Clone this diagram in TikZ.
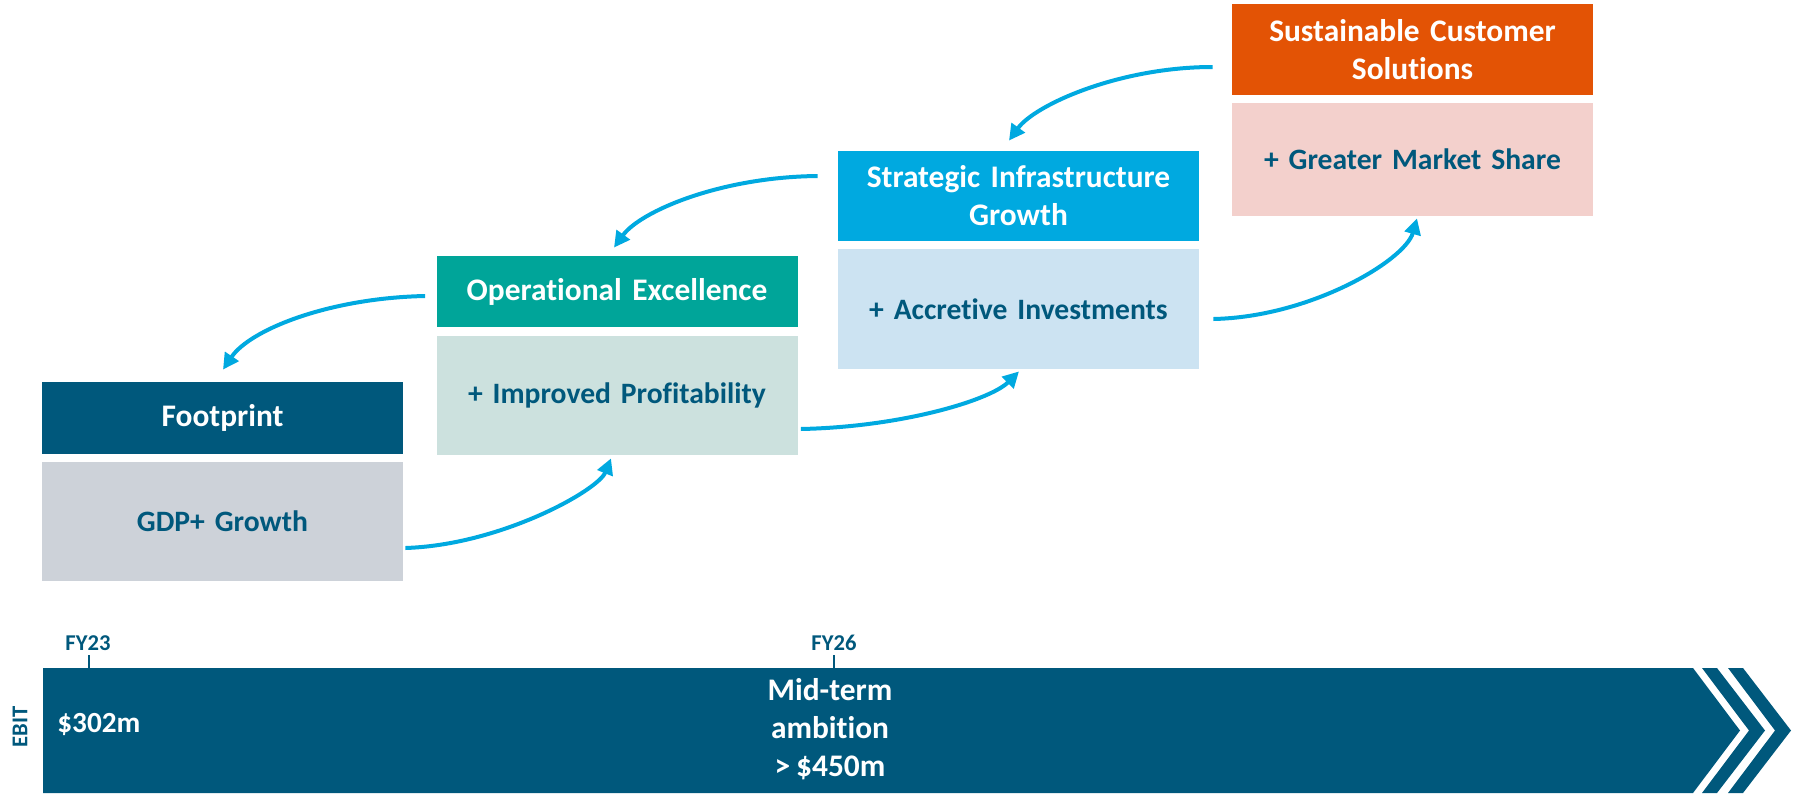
\documentclass[tikz,border=0pt]{standalone}
\usepackage{fontspec}
\setmainfont{Carlito}[Ligatures=CommonOff, WordSpace=0.85]
\usetikzlibrary{arrows.meta}
\definecolor{dkblue}{RGB}{0,88,124}
\definecolor{cyanA}{RGB}{0,169,224}
\definecolor{tealA}{RGB}{0,165,153}
\definecolor{orangeA}{RGB}{227,83,5}
\definecolor{pinkA}{RGB}{243,208,204}
\definecolor{ltblue}{RGB}{204,227,242}
\definecolor{ltteal}{RGB}{204,225,222}
\definecolor{ltgrey}{RGB}{205,210,217}
\tikzset{
  box/.style={rectangle, inner sep=0pt, align=center, minimum width=180.5pt, text width=175pt},
  headbox/.style={box, text=white, font=\fontsize{15.7}{19}\selectfont\bfseries},
  bodybox/.style={box, text=dkblue, font=\fontsize{14.8}{17.5}\selectfont\bfseries},
  flow/.style={draw=cyanA, line width=2pt, -{Triangle[length=8pt,width=8pt]}},
  small/.style={font=\fontsize{11.3}{13}\selectfont\bfseries, text=dkblue, inner sep=0pt},
  tick/.style={draw=dkblue, line width=1pt}
}
\begin{document}
\begin{tikzpicture}[x=0.5pt,y=-0.5pt]
\useasboundingbox (0,0) rectangle (1800,793);
% boxes
\node[headbox, fill=dkblue, minimum height=36pt] (fphead) at (222.5,418) {Footprint};
\node[bodybox, fill=ltgrey, minimum height=59.5pt] (fpbody) at (222.5,521.5) {GDP+ Growth};
\node[headbox, fill=tealA, minimum height=35.5pt] (ophead) at (617,291.5) {Operational Excellence};
\node[bodybox, fill=ltteal, minimum height=59.5pt] (opbody) at (617,395.5) {+ Improved Profitability};
\node[headbox, fill=cyanA, minimum height=45pt] (sthead) at (1018.5,196) {Strategic Infrastructure\\Growth};
\node[bodybox, fill=ltblue, minimum height=60pt] (stbody) at (1018.5,309) {+ Accretive Investments};
\node[headbox, fill=orangeA, minimum height=45.5pt] (sshead) at (1412.5,49.5) {Sustainable Customer\\Solutions};
\node[bodybox, fill=pinkA, minimum height=56.5pt] (ssbody) at (1412.5,159.5) {+ Greater Market Share};
% flow arrows
\draw[flow] ([shift={(2,26.5)}]fpbody.east) .. controls +(95,-3) and +(-13,32) .. ([shift={(-6,3)}]opbody.south);
\draw[flow] ([shift={(3,33.5)}]opbody.east) .. controls +(100,-2) and +(-29,29) .. ([shift={(0.5,2)}]stbody.south);
\draw[flow] ([shift={(14,10)}]stbody.east) .. controls +(97,-2) and +(-12,42) .. ([shift={(4.5,2)}]ssbody.south);
\draw[flow] ([shift={(-19,17.5)}]sshead.west) .. controls +(-93,0) and +(26,-36) .. ([shift={(-9.5,-10)}]sthead.north);
\draw[flow] ([shift={(-20,-20)}]sthead.west) .. controls +(-98,1) and +(26,-36) .. ([shift={(-3,-8)}]ophead.north);
\draw[flow] ([shift={(-11,4.5)}]ophead.west) .. controls +(-96,2) and +(27,-40) .. ([shift={(0.5,-12)}]fphead.north);
% EBIT bar
\fill[dkblue] (43,668) -- (1693,668) -- (1740,730.5) -- (1693,793) -- (43,793) -- cycle;
\fill[dkblue] (1702,668) -- (1717,668) -- (1765,730.5) -- (1717,793) -- (1702,793) -- (1749,730.5) -- cycle;
\fill[dkblue] (1728,668) -- (1743,668) -- (1791,730.5) -- (1743,793) -- (1728,793) -- (1775,730.5) -- cycle;
\coordinate (t23a) at (89,655); \coordinate (t23b) at (89,668);
\coordinate (t26a) at (834,655); \coordinate (t26b) at (834,668);
\draw[tick] (t23a) -- (t23b);
\draw[tick] (t26a) -- (t26b);
\node[small] (fy23) at (88,643) {FY23};
\node[small] (fy26) at (834,643) {FY26};
\node[small, rotate=90] (ebit) at (20,727) {EBIT};
\node[font=\fontsize{14.6}{17}\selectfont\bfseries, text=white, inner sep=0pt, anchor=base west] (v302) at (57,732) {\$302m};
\node[font=\fontsize{15.7}{19}\selectfont\bfseries, text=white, inner sep=0pt, align=center] (mid) at (830,729) {Mid-term\\ambition\\> \$450m};
\end{tikzpicture}
\end{document}
